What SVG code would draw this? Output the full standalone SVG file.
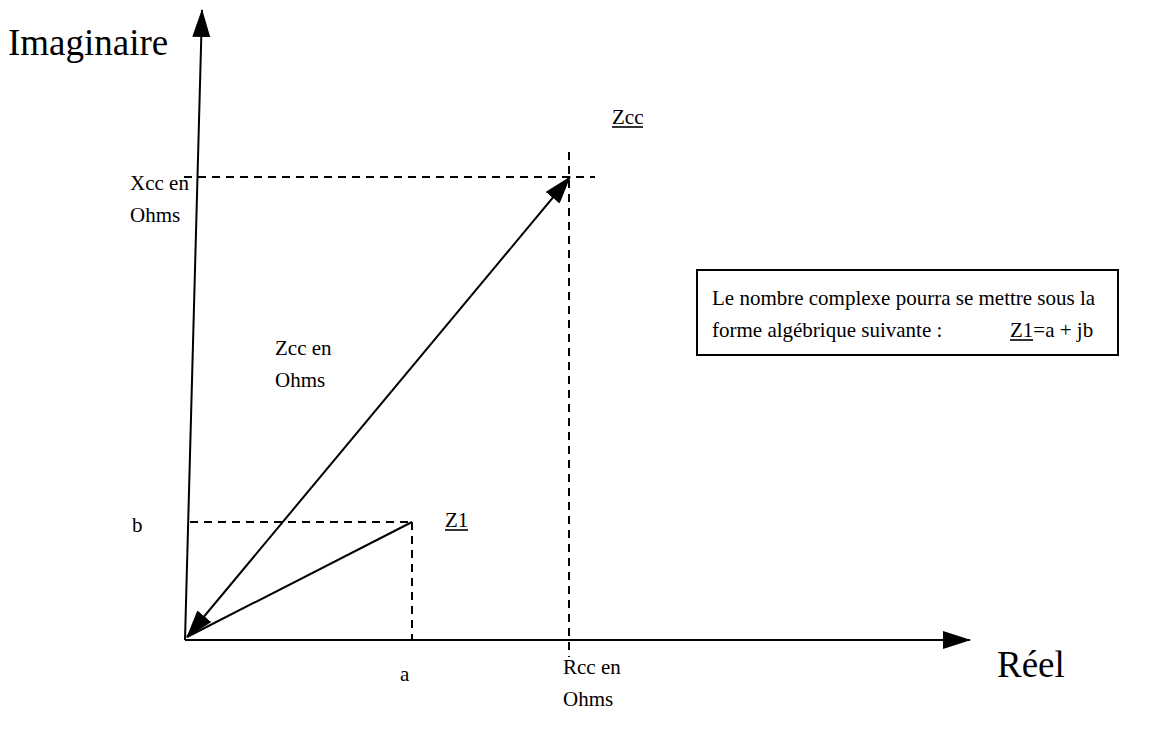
<svg xmlns="http://www.w3.org/2000/svg" width="1176" height="733" viewBox="0 0 1176 733">
<style>
text{font-family:"Liberation Serif","Times New Roman",serif;fill:#000}
.s{font-size:21px}
.l{font-size:37px}
.ax{stroke:#000;stroke-width:2;fill:none}
.d{stroke:#000;stroke-width:2;stroke-dasharray:8,6;fill:none}
.u{stroke:#000;stroke-width:1.6}
</style>
<defs>
<marker id="ah" markerUnits="userSpaceOnUse" markerWidth="28" markerHeight="18" viewBox="0 0 28 18" refX="27" refY="9" orient="auto-start-reverse">
<path d="M0,0 L28,9 L0,18 Z" fill="#000"/>
</marker>
</defs>
<g id="connectors">
<line class="ax" x1="185" y1="640" x2="202" y2="10" marker-end="url(#ah)"/>
<line class="ax" x1="185" y1="640" x2="970" y2="640" marker-end="url(#ah)"/>
<line class="ax" x1="187" y1="637" x2="570" y2="177" marker-start="url(#ah)" marker-end="url(#ah)"/>
<line class="ax" x1="187" y1="637" x2="412" y2="522"/>
<line class="d" x1="184" y1="177" x2="595" y2="177"/>
<line class="d" x1="569" y1="152" x2="569" y2="657"/>
<line class="d" x1="190" y1="522" x2="412" y2="522"/>
<line class="d" x1="412" y1="522" x2="412" y2="640"/>
</g>
<g id="imaginaire"><text class="l" x="8" y="55">Imaginaire</text></g>
<g id="reel"><text class="l" x="997" y="677">Réel</text></g>
<g id="zcc-label"><text class="s" x="612" y="124">Zcc</text><line class="u" x1="612" y1="127" x2="643" y2="127"/></g>
<g id="xcc"><text class="s" x="130" y="190">Xcc en</text><text class="s" x="130" y="222">Ohms</text></g>
<g id="zcc-ohms"><text class="s" x="275" y="355">Zcc en</text><text class="s" x="275" y="387">Ohms</text></g>
<g id="b-label"><text class="s" x="132" y="532">b</text></g>
<g id="z1-label"><text class="s" x="445" y="527">Z1</text><line class="u" x1="445" y1="530" x2="468" y2="530"/></g>
<g id="a-label"><text class="s" x="400" y="681">a</text></g>
<g id="rcc"><text class="s" x="563" y="674">Rcc en</text><text class="s" x="563" y="706">Ohms</text></g>
<g id="box">
<rect x="697" y="270" width="421" height="85" fill="#fff" stroke="#000" stroke-width="2"/>
<text class="s" x="712" y="305">Le nombre complexe pourra se mettre sous la</text>
<text class="s" x="712" y="337">forme algébrique suivante :</text>
<text class="s" x="1010" y="337">Z1=a + jb</text>
<line class="u" x1="1010" y1="340" x2="1033" y2="340"/>
</g>
</svg>
